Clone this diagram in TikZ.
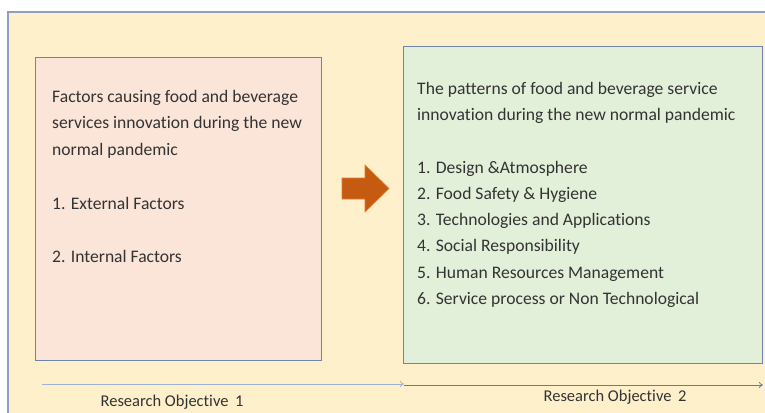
\documentclass[tikz,border=0pt]{standalone}
\usepackage{fontspec}
\setmainfont[Ligatures=NoCommon]{Carlito}
\usetikzlibrary{arrows.meta}
\definecolor{outerfill}{HTML}{FFF0CC}
\definecolor{outerdraw}{HTML}{8E9EC4}
\definecolor{leftfill}{HTML}{FBE4D8}
\definecolor{rightfill}{HTML}{E2EFD9}
\definecolor{boxdraw}{HTML}{6F83AE}
\definecolor{arrowfill}{HTML}{C55A11}
\definecolor{arrowdraw}{HTML}{E07B34}
\definecolor{txt}{HTML}{333333}
\definecolor{lineA}{HTML}{9FB3D3}
\definecolor{lineB}{HTML}{5B7DB5}
\tikzset{
  panel/.style={draw=boxdraw, line width=1pt},
  body/.style={anchor=west, text=txt, font=\fontsize{17.6}{20}\selectfont, inner sep=0pt},
  objlabel/.style={text=txt, font=\fontsize{16.5}{19}\selectfont, inner sep=0pt},
}
\begin{document}
\begin{tikzpicture}[x=1pt,y=-1pt]
\useasboundingbox (0,0) rectangle (765,412);
\clip (0,0) rectangle (765,412);
\fill[white] (0,0) rectangle (765,412);
\draw[fill=outerfill, draw=outerdraw, line width=1.2pt] (8,12) rectangle (790,430);
% left panel
\node[panel, fill=leftfill, minimum width=286pt, minimum height=303pt, anchor=north west] (left) at (35,57) {};
% right panel
\node[panel, fill=rightfill, minimum width=359pt, minimum height=317pt, anchor=north west] (right) at (403,46) {};
% texts left
\node[body] (l1) at (52,98) {Factors causing food and beverage};
\node[body] (l2) at (52,124) {services innovation during the new};
\node[body] (l3) at (52,151) {normal pandemic};
\node[body] (l4) at (52,203) {1. External Factors};
\node[body] (l5) at (52,256) {2. Internal Factors};
% texts right
\node[body] (r1) at (417,90) {The patterns of food and beverage service};
\node[body] (r2) at (417,116) {innovation during the new normal pandemic};
\node[body] (r3) at (417,169) {1. Design \&Atmosphere};
\node[body] (r4) at (417,195) {2. Food Safety \& Hygiene};
\node[body] (r5) at (417,221) {3. Technologies and Applications};
\node[body] (r6) at (417,247) {4. Social Responsibility};
\node[body] (r7) at (417,274) {5. Human Resources Management};
\node[body] (r8) at (417,300) {6. Service process or Non Technological};
% block arrow
\fill[arrowfill, draw=arrowdraw, line width=0.6pt]
  (342,178) -- (365,178) -- (365,165) -- (389,188.5) -- (365,212) -- (365,199) -- (342,199) -- cycle;
% objective lines
\coordinate (a0) at (42,384);
\coordinate (a1) at (404,384);
\coordinate (b1) at (763,385);
\draw[lineA, line width=0.8pt, -{To[length=4pt,width=6pt]}] (a0) -- (a1);
\draw[lineB, line width=0.8pt, -{To[length=4pt,width=6pt]}] (a1 |- b1) -- (b1);
\node[objlabel] (o1) at (172,402) {Research Objective\, 1};
\node[objlabel] (o2) at (615,397) {Research Objective\, 2};
\end{tikzpicture}
\end{document}
